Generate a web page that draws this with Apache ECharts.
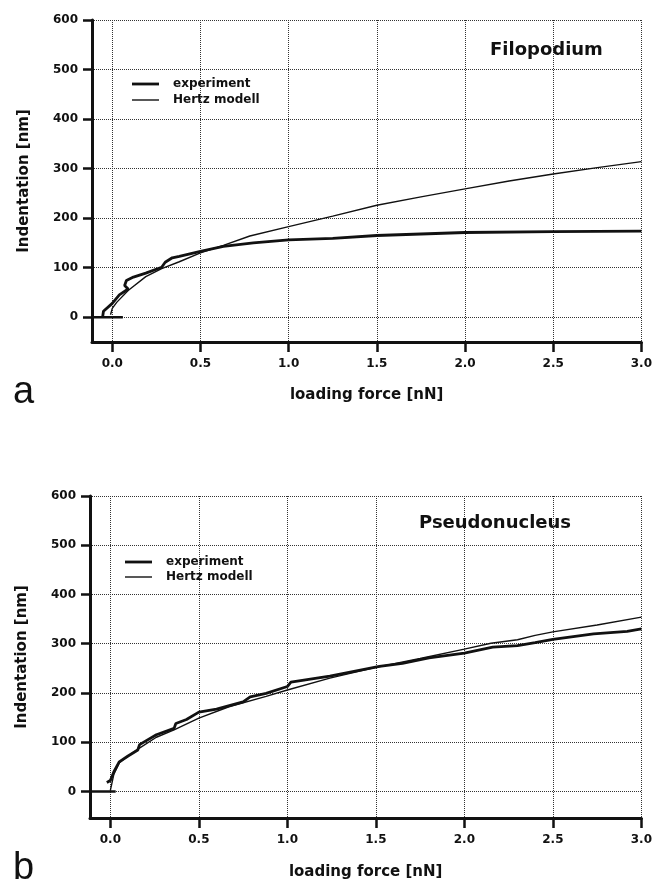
<!DOCTYPE html>
<html>
<head>
<meta charset="utf-8">
<script src="https://cdn.jsdelivr.net/npm/echarts@6/dist/echarts.min.js"></script>
<style>
html,body{margin:0;padding:0;background:#fff;}
#chart{width:655px;height:881px;}
</style>
</head>
<body>
<div id="chart"></div>
<script>
// ---- data (loading force [nN] vs indentation [nm]) ----
const xTicks = [0, 0.5, 1.0, 1.5, 2.0, 2.5, 3.0];
const yTicks = [0, 100, 200, 300, 400, 500, 600];

// Panel a: Filopodium
const aExpX = [-0.055, -0.05, 0.0, 0.04, 0.09, 0.07, 0.08, 0.12, 0.19, 0.28, 0.30, 0.34, 0.38, 0.5, 0.63, 0.8, 1.0, 1.25, 1.5, 2.0, 2.5, 3.0];
const aExpY = [0, 12, 28, 45, 57, 64, 74, 81, 89, 101, 111, 120, 123, 133, 143, 150, 156, 159, 165, 171, 173, 174];
const aHertzX = [-0.01, 0.0, 0.025, 0.09, 0.19, 0.28, 0.38, 0.5, 0.63, 0.78, 1.0, 1.25, 1.5, 1.75, 2.0, 2.25, 2.5, 2.75, 3.0];
const aHertzY = [5, 18, 30, 54, 82, 98, 112, 130, 145, 164, 183, 204, 226, 243, 259, 275, 289, 302, 314];
const aBaseX = [-0.115, 0.06];
const aBaseY = [0, 0];

// Panel b: Pseudonucleus
const bExpX = [-0.02, 0.0, 0.02, 0.05, 0.1, 0.155, 0.165, 0.26, 0.36, 0.37, 0.43, 0.5, 0.6, 0.75, 0.79, 0.88, 1.0, 1.02, 1.24, 1.52, 1.65, 1.8, 2.0, 2.16, 2.3, 2.4, 2.5, 2.73, 2.92, 3.0];
const bExpY = [18, 22, 40, 60, 72, 84, 95, 115, 128, 138, 146, 161, 167, 182, 192, 199, 213, 222, 234, 254, 260, 271, 281, 293, 296, 302, 309, 320, 325, 330];
const bHertzX = [0.0, 0.02, 0.05, 0.1, 0.16, 0.26, 0.36, 0.5, 0.67, 0.88, 1.0, 1.24, 1.5, 1.75, 2.0, 2.15, 2.3, 2.4, 2.5, 2.75, 3.0];
const bHertzY = [2, 35, 58, 72, 87, 110, 125, 149, 172, 193, 206, 230, 252, 270, 289, 301, 308, 317, 324, 338, 354];
const bBaseX = [-0.115, 0.03];
const bBaseY = [0, 0];

const zip = (xs, ys) => xs.map((x, i) => [x, ys[i]]);

const boldFont = 'DejaVu Sans';
const ink = '#111';

function xAxisFor(gridIndex, nameGap) {
  return {
    type: 'value', gridIndex: gridIndex, min: -0.115, max: 3.0,
    name: 'loading force [nN]', nameLocation: 'middle', nameGap: nameGap,
    nameTextStyle: { fontFamily: boldFont, fontWeight: 'bold', fontSize: 15, color: ink },
    axisLine: { onZero: false, lineStyle: { color: ink, width: 3 } },
    axisTick: { show: true, customValues: xTicks, length: 10, inside: false, lineStyle: { color: ink, width: 2.5 } },
    axisLabel: { customValues: xTicks, margin: 16, fontFamily: boldFont, fontWeight: 'bold', fontSize: 12, color: ink,
      formatter: v => v.toFixed(1) },
    splitLine: { show: true, lineStyle: { type: 'dotted', color: '#333', width: 1 } }
  };
}
function yAxisFor(gridIndex, min) {
  return {
    type: 'value', gridIndex: gridIndex, min: min, max: 600,
    name: 'Indentation [nm]', nameLocation: 'middle', nameGap: 60, nameRotate: 90,
    nameTextStyle: { fontFamily: boldFont, fontWeight: 'bold', fontSize: 15, color: ink },
    axisLine: { onZero: false, lineStyle: { color: ink, width: 3 } },
    axisTick: { show: true, customValues: yTicks, length: 9, inside: false, lineStyle: { color: ink, width: 2.5 } },
    axisLabel: { customValues: yTicks, margin: 14, fontFamily: boldFont, fontWeight: 'bold', fontSize: 12, color: ink },
    splitLine: { show: true, lineStyle: { type: 'dotted', color: '#333', width: 1 } }
  };
}
function lineSeries(name, xi, data, width) {
  return {
    name: name, type: 'line', xAxisIndex: xi, yAxisIndex: xi, data: data,
    showSymbol: false, symbol: 'none', smooth: false, silent: true,
    lineStyle: { color: ink, width: width }, itemStyle: { color: ink }
  };
}
const legendText = { fontFamily: boldFont, fontWeight: 'bold', fontSize: 12, color: ink, padding: [0, 0, 0, 9] };
function legendItem(name, left, top, thickness) {
  return { data: [name], orient: 'vertical', left: left, top: top, padding: 0, icon: 'rect',
    itemWidth: 27, itemHeight: thickness, selectedMode: false, textStyle: legendText,
    itemStyle: { color: ink, borderWidth: 0 } };
}

const option = {
  backgroundColor: '#fff',
  animation: false,
  grid: [
    { left: 92, width: 551, top: 20, height: 322, containLabel: false },
    { left: 90, width: 552, top: 496, height: 322.3, containLabel: false }
  ],
  xAxis: [xAxisFor(0, 46), xAxisFor(1, 47)],
  yAxis: [yAxisFor(0, -50), yAxisFor(1, -54)],
  title: [
    { text: 'Filopodium', left: 485, top: 36, textStyle: { fontFamily: boldFont, fontWeight: 'bold', fontSize: 18, color: ink } },
    { text: 'Pseudonucleus', left: 414, top: 509, textStyle: { fontFamily: boldFont, fontWeight: 'bold', fontSize: 18, color: ink } },
    { text: 'a', left: 13, top: 374, padding: 0, textStyle: { fontFamily: 'Liberation Sans', fontWeight: 'normal', fontSize: 38, color: ink } },
    { text: 'b', left: 13, top: 850, padding: 0, textStyle: { fontFamily: 'Liberation Sans', fontWeight: 'normal', fontSize: 38, color: ink } }
  ],
  legend: [
    legendItem('experiment', 132, 78, 2.8),
    legendItem('Hertz modell', 132, 94, 1.4),
    legendItem('experiment', 125, 556, 2.8),
    legendItem('Hertz modell', 125, 571, 1.4)
  ],
  series: [
    lineSeries('base', 0, zip(aBaseX, aBaseY), 2.5),
    lineSeries('Hertz modell', 0, zip(aHertzX, aHertzY), 1.4),
    lineSeries('experiment', 0, zip(aExpX, aExpY), 2.8),
    lineSeries('base', 1, zip(bBaseX, bBaseY), 2.5),
    lineSeries('Hertz modell', 1, zip(bHertzX, bHertzY), 1.4),
    lineSeries('experiment', 1, zip(bExpX, bExpY), 2.8)
  ]
};

const chart = echarts.init(document.getElementById('chart'), null, { renderer: 'canvas' });
chart.setOption(option);
</script>
</body>
</html>
